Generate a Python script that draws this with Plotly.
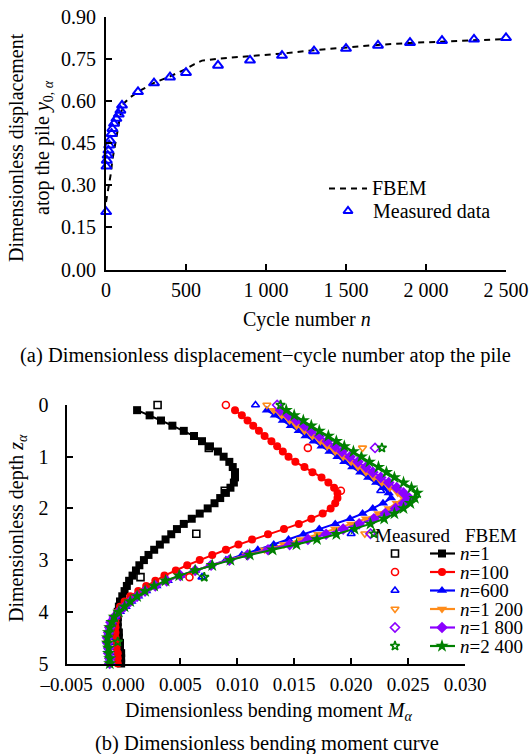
import plotly.graph_objects as go

# ---------------- data: (a) displacement vs cycle number ----------------
fbem_n = [0, 10, 20, 30, 40, 50, 60, 75, 90, 110, 150, 200, 300, 400, 500, 550, 600,
          700, 800, 900, 1100, 1300, 1500, 1700, 1900, 2100, 2300, 2500]
fbem_y = [0.24, 0.27, 0.31, 0.34, 0.39, 0.42, 0.45, 0.50, 0.55, 0.59, 0.612, 0.632, 0.664,
          0.687, 0.713, 0.730, 0.743, 0.750, 0.754, 0.758, 0.768, 0.780, 0.790, 0.799,
          0.806, 0.811, 0.816, 0.820]
meas_n = [1, 3, 5, 10, 15, 20, 25, 35, 40, 50, 65, 80, 90, 100, 200, 300, 400, 500, 700,
          900, 1100, 1300, 1500, 1700, 1900, 2100, 2300, 2500]
meas_y = [0.205, 0.367, 0.388, 0.406, 0.424, 0.442, 0.459, 0.483, 0.501, 0.519, 0.537,
          0.552, 0.566, 0.584, 0.632, 0.663, 0.684, 0.700, 0.726, 0.744, 0.761, 0.777,
          0.786, 0.797, 0.807, 0.814, 0.819, 0.824]
top_xticks = [0, 500, 1000, 1500, 2000, 2500]
top_xticktext = ["0", "500", "1 000", "1 500", "2 000", "2 500"]
top_yticks = [0, 0.15, 0.30, 0.45, 0.60, 0.75, 0.90]

# ---------------- data: (b) bending moment vs depth ----------------
depth = [0.1, 0.2, 0.3, 0.4, 0.5, 0.6, 0.7, 0.8, 0.9, 1.0,
         1.1, 1.2, 1.3, 1.4, 1.5, 1.6, 1.7, 1.8, 1.9, 2.0,
         2.1, 2.2, 2.3, 2.4, 2.5, 2.6, 2.7, 2.8, 2.9, 3.0,
         3.1, 3.2, 3.3, 3.4, 3.5, 3.6, 3.7, 3.8, 3.9, 4.0,
         4.1, 4.2, 4.3, 4.4, 4.5, 4.6, 4.7, 4.8, 4.9, 5.0]
fbem_n1 = [0.0012, 0.0023, 0.0033, 0.0043, 0.0053, 0.0062, 0.0069, 0.0076, 0.0083, 0.0088,
           0.0093, 0.0096, 0.0098, 0.0098, 0.0097, 0.0094, 0.0090, 0.0085, 0.0080, 0.0074,
           0.0067, 0.0060, 0.0053, 0.0047, 0.0042, 0.0037, 0.0032, 0.0027, 0.0022, 0.0018,
           0.0014, 0.0011, 0.0008, 0.0005, 0.0003, 0.0001, -0.0001, -0.0003, -0.0004, -0.0005,
           -0.0005, -0.0005, -0.0005, -0.0004, -0.0004, -0.0003, -0.0003, -0.0002, -0.0002, -0.0002]
fbem_n100 = [0.0098, 0.0104, 0.0109, 0.0114, 0.0119, 0.0124, 0.0130, 0.0135, 0.0140, 0.0145,
             0.0151, 0.0159, 0.0166, 0.0174, 0.0180, 0.0185, 0.0188, 0.0188, 0.0186, 0.0182,
             0.0175, 0.0165, 0.0154, 0.0141, 0.0127, 0.0113, 0.0101, 0.0090, 0.0078, 0.0067,
             0.0056, 0.0046, 0.0036, 0.0028, 0.0020, 0.0013, 0.0006, 0.0001, -0.0003, -0.0005,
             -0.0006, -0.0007, -0.0007, -0.0007, -0.0007, -0.0006, -0.0006, -0.0005, -0.0005, -0.0005]
fbem_n600 = [0.0126, 0.0133, 0.0140, 0.0147, 0.0154, 0.0160, 0.0167, 0.0174, 0.0181, 0.0188,
             0.0194, 0.0201, 0.0208, 0.0215, 0.0222, 0.0228, 0.0233, 0.0235, 0.0228, 0.0219,
             0.0210, 0.0199, 0.0186, 0.0172, 0.0158, 0.0145, 0.0132, 0.0118, 0.0104, 0.0090,
             0.0076, 0.0063, 0.0050, 0.0039, 0.0029, 0.0020, 0.0013, 0.0007, 0.0002, -0.0003,
             -0.0007, -0.0010, -0.0012, -0.0013, -0.0013, -0.0013, -0.0013, -0.0012, -0.0012, -0.0011]
fbem_n1200 = [0.0132, 0.0139, 0.0146, 0.0152, 0.0159, 0.0166, 0.0173, 0.0179, 0.0186, 0.0193,
              0.0200, 0.0206, 0.0213, 0.0220, 0.0227, 0.0234, 0.0241, 0.0246, 0.0240, 0.0233,
              0.0224, 0.0213, 0.0200, 0.0186, 0.0171, 0.0156, 0.0141, 0.0124, 0.0108, 0.0092,
              0.0077, 0.0063, 0.0050, 0.0038, 0.0028, 0.0019, 0.0012, 0.0006, 0.0001, -0.0004,
              -0.0008, -0.0011, -0.0012, -0.0013, -0.0014, -0.0014, -0.0013, -0.0013, -0.0012, -0.0012]
fbem_n1800 = [0.0138, 0.0145, 0.0152, 0.0159, 0.0165, 0.0172, 0.0179, 0.0186, 0.0192, 0.0199,
              0.0206, 0.0213, 0.0219, 0.0226, 0.0233, 0.0240, 0.0246, 0.0251, 0.0246, 0.0239,
              0.0230, 0.0220, 0.0207, 0.0193, 0.0178, 0.0162, 0.0146, 0.0127, 0.0109, 0.0093,
              0.0077, 0.0063, 0.0050, 0.0038, 0.0028, 0.0019, 0.0012, 0.0006, 0.0001, -0.0004,
              -0.0008, -0.0011, -0.0012, -0.0013, -0.0014, -0.0014, -0.0013, -0.0013, -0.0012, -0.0012]
fbem_n2400 = [0.0143, 0.0150, 0.0158, 0.0165, 0.0172, 0.0180, 0.0187, 0.0194, 0.0202, 0.0209,
              0.0216, 0.0224, 0.0231, 0.0238, 0.0246, 0.0253, 0.0258, 0.0256, 0.0252, 0.0246,
              0.0238, 0.0229, 0.0217, 0.0203, 0.0187, 0.0170, 0.0152, 0.0131, 0.0111, 0.0094,
              0.0078, 0.0063, 0.0049, 0.0037, 0.0027, 0.0019, 0.0012, 0.0006, 0.0001, -0.0004,
              -0.0008, -0.0010, -0.0012, -0.0013, -0.0014, -0.0014, -0.0013, -0.0013, -0.0012, -0.0012]

meas_z_n1 = [0.0, 0.83, 1.66, 2.49, 3.33]
meas_m_n1 = [0.0030, 0.0075, 0.0089, 0.0064, 0.0015]
meas_z_n100 = [0.0, 0.83, 1.66, 3.33]
meas_m_n100 = [0.0090, 0.0162, 0.0191, 0.0058]
meas_z_n600 = [0.0, 1.66, 2.49, 3.33]
meas_m_n600 = [0.0116, 0.0226, 0.0200, 0.0069]
meas_z_n1200 = [0.0, 0.83, 2.49]
meas_m_n1200 = [0.0126, 0.0210, 0.0212]
meas_z_n1800 = [0.0, 0.83, 2.49]
meas_m_n1800 = [0.0135, 0.0221, 0.0217]
meas_z_n2400 = [0.0, 0.83, 2.49, 3.33, 4.58]
meas_m_n2400 = [0.0138, 0.0227, 0.0220, 0.0071, -0.0005]

series_labels = ["<i>n</i>=1", "<i>n</i>=100", "<i>n</i>=600", "<i>n</i>=1 200",
                 "<i>n</i>=1 800", "<i>n</i>=2 400"]
bot_xticks = [-0.005, 0.0, 0.005, 0.010, 0.015, 0.020, 0.025, 0.030]
bot_xticktext = ["–0.005", "0.000", "0.005", "0.010", "0.015", "0.020", "0.025", "0.030"]
bot_yticks = [0, 1, 2, 3, 4, 5]

# ---------------- styles ----------------
W, H = 529, 754
FONT = "Liberation Serif"
colors = ["#000000", "#ff0000", "#0000ff", "#ff8c1a", "#8b00ff", "#008000"]
sym_fill = ["square", "circle", "triangle-up", "triangle-down", "diamond", "star"]
sym_open = [s + "-open" for s in sym_fill]
fill_size = [8, 8, 9, 9, 9, 10]

fbem_sets = [fbem_n1, fbem_n100, fbem_n600, fbem_n1200, fbem_n1800, fbem_n2400]
meas_sets = [(meas_z_n1, meas_m_n1), (meas_z_n100, meas_m_n100), (meas_z_n600, meas_m_n600),
             (meas_z_n1200, meas_m_n1200), (meas_z_n1800, meas_m_n1800),
             (meas_z_n2400, meas_m_n2400)]
for s in fbem_sets:
    assert len(s) == len(depth)


def px(x):
    return x / W


def py(y):
    return 1 - y / H


fig = go.Figure()

# (a)
fig.add_trace(go.Scatter(x=fbem_n, y=fbem_y, mode="lines", xaxis="x", yaxis="y",
                         line=dict(color="black", width=2, dash="6px,5px"),
                         showlegend=False, cliponaxis=False))
fig.add_trace(go.Scatter(x=meas_n, y=meas_y, mode="markers", xaxis="x", yaxis="y",
                         marker=dict(symbol="triangle-up-open", size=9, color="#0000ff",
                                     line=dict(width=2, color="#0000ff")),
                         showlegend=False, cliponaxis=False))

# (b) FBEM curves
for i, s in enumerate(fbem_sets):
    fig.add_trace(go.Scatter(x=s, y=depth, mode="lines+markers", xaxis="x2", yaxis="y2",
                             line=dict(color=colors[i], width=2),
                             marker=dict(symbol=sym_fill[i], size=fill_size[i], color=colors[i]),
                             showlegend=False, cliponaxis=False))
# (b) measured
for i, (zz, mm) in enumerate(meas_sets):
    fig.add_trace(go.Scatter(x=mm, y=zz, mode="markers", xaxis="x2", yaxis="y2",
                             marker=dict(symbol=sym_open[i], size=7, color=colors[i],
                                         line=dict(width=1.6, color=colors[i])),
                             showlegend=False, cliponaxis=False))

# ---------------- legend keys (overlay axis in pixel space) ----------------
LEG_A_LINE = (329, 367, 188.5)
LEG_A_TRI = (348, 211)
fig.add_trace(go.Scatter(x=[LEG_A_LINE[0], LEG_A_LINE[1]], y=[LEG_A_LINE[2]] * 2, mode="lines",
                         xaxis="x3", yaxis="y3", line=dict(color="black", width=2, dash="6px,5px"),
                         showlegend=False, hoverinfo="skip"))
fig.add_trace(go.Scatter(x=[LEG_A_TRI[0]], y=[LEG_A_TRI[1]], mode="markers", xaxis="x3", yaxis="y3",
                         marker=dict(symbol="triangle-up-open", size=8, color="#0000ff",
                                     line=dict(width=2, color="#0000ff")),
                         showlegend=False, hoverinfo="skip"))

LEG_ROWS = [553.5, 572, 590.5, 609, 627.5, 646]
LEG_MX = 395
LEG_L0, LEG_L1, LEG_LM = 430, 455, 442
for i, ry in enumerate(LEG_ROWS):
    fig.add_trace(go.Scatter(x=[LEG_MX], y=[ry], mode="markers", xaxis="x3", yaxis="y3",
                             marker=dict(symbol=sym_open[i], size=7, color=colors[i],
                                         line=dict(width=1.6, color=colors[i])),
                             showlegend=False, hoverinfo="skip"))
    fig.add_trace(go.Scatter(x=[LEG_L0, LEG_L1], y=[ry, ry], mode="lines", xaxis="x3", yaxis="y3",
                             line=dict(color=colors[i], width=2.2),
                             showlegend=False, hoverinfo="skip"))
    fig.add_trace(go.Scatter(x=[LEG_LM], y=[ry], mode="markers", xaxis="x3", yaxis="y3",
                             marker=dict(symbol=sym_fill[i], size=fill_size[i], color=colors[i]),
                             showlegend=False, hoverinfo="skip"))

axis_common = dict(showgrid=False, zeroline=False, showline=True, linecolor="black",
                   linewidth=2, ticks="inside", ticklen=6, tickwidth=1.5, tickcolor="black",
                   mirror=False, automargin=False)

fig.update_layout(
    template="none",
    width=W, height=H,
    margin=dict(l=0, r=0, t=0, b=0, pad=0),
    paper_bgcolor="white", plot_bgcolor="rgba(0,0,0,0)",
    font=dict(family=FONT, size=20, color="black"),
    showlegend=False,
    xaxis=dict(domain=[px(106), px(506)], range=[0, 2500], anchor="y",
               tickvals=top_xticks, ticktext=top_xticktext, ticklabelstandoff=1,
               tickfont=dict(family=FONT, size=20, color="black"), **axis_common),
    yaxis=dict(domain=[py(269.5), py(16.5)], range=[0, 0.9], anchor="x",
               tickvals=top_yticks, tickformat=".2f", ticklabelstandoff=4,
               tickfont=dict(family=FONT, size=20, color="black"), **axis_common),
    xaxis2=dict(domain=[px(66.5), px(465)], range=[-0.005, 0.030], anchor="y2",
                tickvals=bot_xticks, ticktext=bot_xticktext, ticklabelstandoff=3,
                tickfont=dict(family=FONT, size=19, color="black"), **axis_common),
    yaxis2=dict(domain=[py(663.5), py(405)], range=[5, 0], anchor="x2",
                tickvals=bot_yticks, ticklabelstandoff=12,
                tickfont=dict(family=FONT, size=20, color="black"), **axis_common),
    xaxis3=dict(domain=[0, 1], range=[0, W], anchor="y3", visible=False, fixedrange=True,
                automargin=False),
    yaxis3=dict(domain=[0, 1], range=[H, 0], anchor="x3", visible=False, fixedrange=True,
                automargin=False),
)


def ann(text, x, y, size=20, angle=0, xanchor="center"):
    fig.add_annotation(text=text, x=px(x), y=py(y), xref="paper", yref="paper",
                       showarrow=False, textangle=angle, xanchor=xanchor, yanchor="middle",
                       font=dict(family=FONT, size=size, color="black"))


# titles (a)
ann("Cycle number <i>n</i>", 307, 319)
ann("Dimensionless displacement<br>atop the pile <i>y</i><sub>0, <i>α</i></sub>", 30, 148, angle=-90)
ann("(a) Dimensionless displacement−cycle number atop the pile", 265, 355, size=20.5)
# legend text (a)
ann("FBEM", 370, 188, xanchor="left")
ann("Measured data", 371, 211, xanchor="left")

# titles (b)
ann("Dimensionless bending moment <i>M</i><sub><i>α</i></sub>", 268, 711)
ann("Dimensionless depth <i>z</i><sub><i>α</i></sub>", 17, 528, angle=-90)
ann("(b) Dimensionless bending moment curve", 267, 743, size=20.5)
# legend text (b)
ann("Measured", 412, 535, size=19)
ann("FBEM", 491, 535, size=19)
for i, ry in enumerate(LEG_ROWS):
    ann(series_labels[i], 458, ry, size=19, xanchor="left")

fig.write_html("out.html")
